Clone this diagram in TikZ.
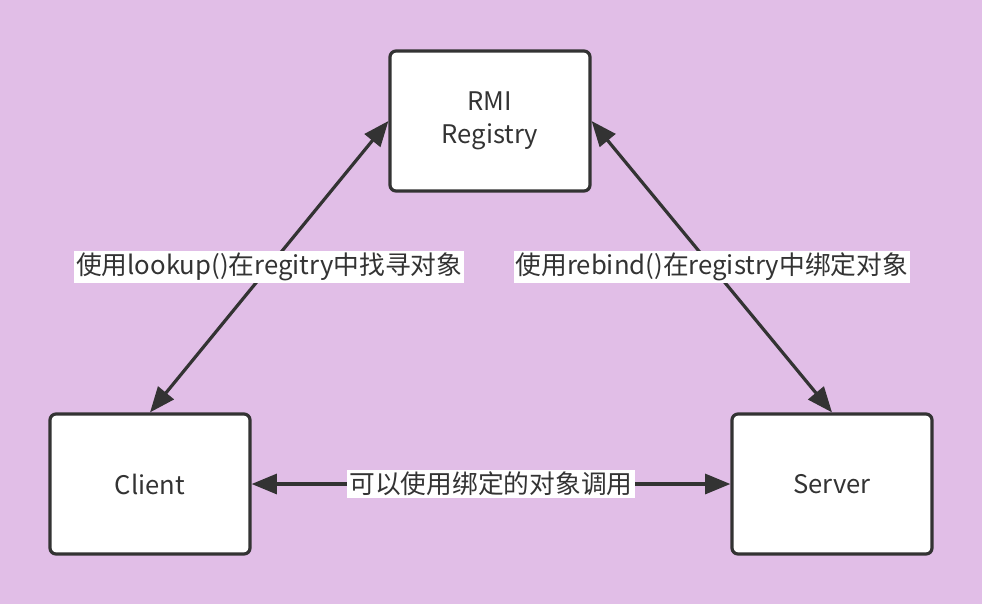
\documentclass[tikz,border=0pt]{standalone}
\usepackage{fontspec}
\setmainfont{Noto Sans CJK SC}
\usetikzlibrary{arrows.meta}
\definecolor{bgc}{HTML}{E1BEE7}
\definecolor{ink}{HTML}{333333}
\begin{document}
\begin{tikzpicture}[x=0.75pt,y=-0.75pt,
  box/.style={draw=ink,fill=white,line width=2.4pt,rounded corners=4.5pt,
    minimum width=150pt,minimum height=105pt,text=ink,align=center,
    font=\fontsize{19.2pt}{24.5pt}\selectfont},
  conn/.style={draw=ink,line width=2.4pt,
    {Triangle[length=19pt,width=15pt]}-{Triangle[length=19pt,width=15pt]}},
  lbl/.style={fill=white,text=ink,inner sep=1.5pt,
    font=\fontsize{19.3pt}{22pt}\selectfont}]
\useasboundingbox (0,0) rectangle (982,604);
\fill[bgc] (0,0) rectangle (982,604);
\node[box] (rmi) at (490,121) {RMI\\Registry};
\node[box] (cl) at (150,484) {Client};
\node[box] (sv) at (832,484) {Server};
\draw[conn] (cl.north) -- node[lbl] {使用lookup()在regitry中找寻对象} (rmi.west);
\draw[conn] (rmi.east) -- node[lbl] {使用rebind()在registry中绑定对象} (sv.north);
\draw[conn] (cl.east) -- node[lbl] {可以使用绑定的对象调用} (sv.west);
\end{tikzpicture}
\end{document}
